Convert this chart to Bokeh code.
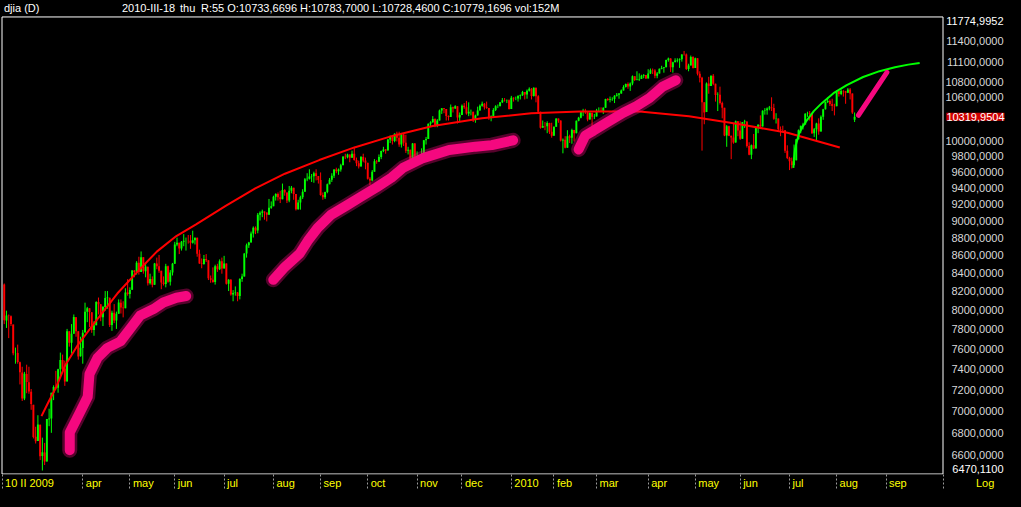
import math
import pandas as pd
from bokeh.plotting import figure
from bokeh.models import Range1d, FixedTicker, Label, ColumnDataSource, CustomJSTickFormatter
from bokeh.core.properties import value
from bokeh.embed import file_html
from bokeh.resources import INLINE

# ---------------- header texts ----------------
symbol = "djia (D)"
cursor_date = "2010-III-18"
cursor_day = "thu"
cursor_values = "R:55 O:10733,6696 H:10783,7000 L:10728,4600 C:10779,1696 vol:152M"
first_label = "10 II 2009"
scale_label = "Log"
last_close = 10319.9504

# ---------------- trading calendar ----------------
first_day = "2009-02-10"
calendar_end = "2010-09-30"
holidays = ["2009-02-16", "2009-04-10", "2009-05-25", "2009-07-03", "2009-09-07",
            "2009-11-26", "2009-12-25", "2010-01-01", "2010-01-18", "2010-02-15",
            "2010-04-02", "2010-05-31", "2010-07-05", "2010-09-06"]
tick_months = ["2009-04", "2009-05", "2009-06", "2009-07", "2009-08", "2009-09", "2009-10",
               "2009-11", "2009-12", "2010-01", "2010-02", "2010-03", "2010-04", "2010-05",
               "2010-06", "2010-07", "2010-08", "2010-09"]
month_names = ["jan", "feb", "mar", "apr", "may", "jun", "jul", "aug", "sep", "oct", "nov", "dec"]

# ---------------- daily OHLC ----------------
opens = [
    # 2009 feb
    8270, 7888, 7937, 7932, 7845, 7555, 7555, 7465, 7365, 7115, 7350, 7270, 7180,
    # mar
    7056, 6764, 6727, 6874, 6595, 6625, 6547, 6923, 6931, 7170, 7223, 7217, 7395, 7486, 7402, 7278, 7775, 7660, 7750, 7922, 7775, 7523,
    # apr
    7606, 7763, 7978, 8016, 7973, 7789, 7838, 8083, 8057, 7920, 8029, 8125, 8128, 7840, 7969, 7886, 7957, 8075, 8025, 8016, 8185,
    # may
    8168, 8213, 8426, 8411, 8512, 8410, 8574, 8418, 8468, 8284, 8331, 8268, 8504, 8474, 8422, 8292, 8277, 8473, 8300, 8403,
    # jun
    8500, 8721, 8740, 8675, 8750, 8763, 8764, 8763, 8739, 8770, 8799, 8613, 8504, 8497, 8555, 8539, 8339, 8323, 8299, 8472, 8438, 8529,
    # jul
    8447, 8504, 8280, 8324, 8163, 8178, 8183, 8146, 8332, 8359, 8616, 8711, 8743, 8848, 8916, 8882, 9069, 9093, 9108, 9096, 9070, 9154,
    # aug
    9172, 9286, 9320, 9280, 9256, 9370, 9338, 9242, 9362, 9398, 9321, 9136, 9218, 9280, 9350, 9505, 9510, 9540, 9543, 9581, 9545,
    # sep
    9496, 9310, 9281, 9345, 9441, 9497, 9548, 9627, 9605, 9626, 9683, 9791, 9784, 9820, 9779, 9830, 9749, 9707, 9666, 9789, 9742,
    # oct
    9712, 9510, 9488, 9600, 9732, 9726, 9787, 9865, 9886, 9872, 10016, 10063, 9996, 10093, 10041, 9950, 10082, 9973, 9868, 9882, 9763, 9963,
    # nov
    9713, 9790, 9772, 9802, 10005, 10024, 10227, 10247, 10292, 10197, 10271, 10407, 10438, 10427, 10333, 10318, 10451, 10434, 10465, 10310,
    # dec
    10345, 10472, 10453, 10367, 10389, 10390, 10286, 10338, 10406, 10472, 10502, 10452, 10442, 10309, 10329, 10414, 10464, 10467, 10520, 10548, 10545, 10548,
    # 2010 jan
    10428, 10584, 10573, 10574, 10607, 10619, 10663, 10628, 10681, 10711, 10610, 10726, 10604, 10389, 10173, 10196, 10194, 10236, 10120,
    # feb
    10067, 10185, 10297, 10271, 10002, 10013, 9908, 10058, 10038, 10144, 10099, 10268, 10309, 10392, 10403, 10384, 10283, 10375, 10321,
    # mar
    10325, 10404, 10405, 10397, 10445, 10567, 10553, 10564, 10567, 10612, 10625, 10643, 10686, 10734, 10779, 10742, 10786, 10888, 10836, 10841, 10850, 10895, 10907,
    # apr
    10857, 10927, 10974, 10970, 10897, 10928, 10998, 11006, 11019, 11124, 11145, 11019, 11093, 11117, 11125, 11134, 11206, 11205, 10992, 11045, 11167,
    # may
    11009, 11152, 10926, 10868, 10520, 10386, 10785, 10749, 10897, 10782, 10621, 10625, 10511, 10444, 10068, 10193, 10067, 10043, 9975, 10259,
    # jun
    10137, 10025, 10250, 10256, 9931, 9816, 9940, 9899, 10173, 10212, 10191, 10405, 10410, 10434, 10450, 10442, 10294, 10298, 10152, 10144, 10138, 9870,
    # jul
    9774, 9732, 9686, 9744, 10018, 10139, 10198, 10216, 10364, 10367, 10360, 10098, 10154, 10230, 10121, 10322, 10425, 10525, 10538, 10498, 10468,
    # aug
    10466, 10674, 10636, 10680, 10675, 10654, 10698, 10644, 10280,
]
highs = [
    8282, 7990, 7950, 7940, 7845, 7610, 7640, 7470, 7420, 7370, 7440, 7420, 7205,
    7056, 6855, 6960, 6874, 6757, 6710, 6926, 7020, 7170, 7240, 7380, 7400, 7560, 7540, 7480, 7800, 7775, 7850, 7950, 7922, 7775, 7720,
    7790, 8075, 8030, 8016, 7973, 7880, 8090, 8130, 8057, 8040, 8200, 8200, 8128, 7990, 8060, 7980, 8110, 8110, 8090, 8230, 8330,
    8240, 8430, 8430, 8530, 8580, 8640, 8574, 8510, 8468, 8390, 8360, 8510, 8570, 8600, 8422, 8360, 8500, 8480, 8430, 8510,
    8750, 8800, 8740, 8760, 8840, 8800, 8830, 8830, 8880, 8800, 8799, 8660, 8560, 8600, 8610, 8539, 8370, 8460, 8490, 8500, 8550, 8570,
    8590, 8504, 8330, 8330, 8210, 8250, 8190, 8340, 8390, 8620, 8730, 8750, 8870, 8930, 8930, 9090, 9110, 9130, 9108, 9096, 9260, 9230,
    9300, 9330, 9340, 9360, 9450, 9380, 9338, 9420, 9420, 9398, 9321, 9250, 9300, 9380, 9520, 9580, 9630, 9570, 9600, 9630, 9545,
    9590, 9340, 9350, 9450, 9520, 9580, 9630, 9650, 9640, 9700, 9800, 9830, 9830, 9820, 9870, 9920, 9780, 9740, 9800, 9830, 9780,
    9712, 9530, 9620, 9760, 9750, 9820, 9870, 9920, 9890, 10020, 10070, 10063, 10100, 10120, 10120, 10090, 10090, 10080, 9920, 9882, 9970, 9970,
    9860, 9800, 9900, 10010, 10050, 10230, 10260, 10330, 10300, 10290, 10420, 10440, 10440, 10427, 10340, 10490, 10460, 10480, 10465, 10380,
    10490, 10510, 10540, 10520, 10420, 10390, 10350, 10460, 10490, 10530, 10510, 10530, 10442, 10340, 10440, 10480, 10490, 10520, 10580, 10580, 10560, 10560,
    10610, 10590, 10600, 10620, 10630, 10680, 10663, 10700, 10730, 10720, 10730, 10726, 10620, 10390, 10270, 10250, 10260, 10240, 10240,
    10190, 10300, 10297, 10271, 10030, 10060, 10140, 10080, 10160, 10144, 10270, 10320, 10400, 10430, 10430, 10390, 10380, 10375, 10360,
    10430, 10450, 10450, 10450, 10570, 10580, 10600, 10590, 10620, 10650, 10650, 10700, 10760, 10784, 10800, 10800, 10900, 10890, 10960, 10930, 10910, 10920, 10907,
    10990, 11000, 11000, 10990, 10950, 11000, 11040, 11020, 11130, 11160, 11150, 11100, 11150, 11150, 11150, 11210, 11258, 11220, 11070, 11190, 11180,
    11160, 11152, 10960, 10880, 10520, 10800, 10880, 10900, 10920, 10782, 10660, 10740, 10530, 10444, 10210, 10200, 10067, 10230, 10270, 10259,
    10260, 10250, 10280, 10256, 9980, 9950, 10090, 10180, 10220, 10340, 10410, 10440, 10450, 10470, 10590, 10500, 10370, 10298, 10190, 10200, 10138, 9940,
    9790, 9780, 9950, 10020, 10150, 10200, 10240, 10370, 10390, 10400, 10360, 10170, 10240, 10300, 10340, 10430, 10530, 10590, 10560, 10570, 10500,
    10690, 10680, 10700, 10690, 10680, 10720, 10720, 10644, 10380,
]
lows = [
    7850, 7810, 7706, 7830, 7533, 7450, 7450, 7249, 7092, 7100, 7165, 7160, 7010,
    6750, 6705, 6727, 6560, 6470, 6517, 6547, 6860, 6800, 7100, 7200, 7170, 7310, 7370, 7235, 7278, 7620, 7550, 7750, 7720, 7490, 7520,
    7450, 7763, 7870, 7820, 7760, 7730, 7838, 7950, 7880, 7830, 7990, 8010, 7820, 7780, 7860, 7800, 7957, 7960, 7920, 8016, 8150,
    8120, 8213, 8350, 8380, 8380, 8410, 8390, 8350, 8260, 8270, 8240, 8268, 8440, 8400, 8220, 8260, 8240, 8290, 8260, 8370,
    8500, 8700, 8610, 8650, 8700, 8650, 8730, 8670, 8730, 8720, 8580, 8500, 8450, 8490, 8520, 8320, 8290, 8290, 8270, 8410, 8430, 8390,
    8447, 8270, 8200, 8150, 8090, 8150, 8090, 8110, 8300, 8359, 8570, 8680, 8743, 8800, 8840, 8850, 9000, 9040, 9010, 8990, 9070, 9140,
    9172, 9240, 9240, 9210, 9256, 9300, 9210, 9220, 9330, 9250, 9120, 9130, 9130, 9260, 9350, 9480, 9500, 9470, 9460, 9490, 9450,
    9300, 9250, 9260, 9330, 9441, 9470, 9520, 9580, 9560, 9600, 9683, 9760, 9770, 9720, 9779, 9740, 9670, 9640, 9666, 9720, 9630,
    9500, 9430, 9480, 9600, 9700, 9726, 9760, 9850, 9830, 9872, 9970, 9950, 9980, 9990, 9920, 9910, 9930, 9840, 9820, 9750, 9763, 9690,
    9680, 9700, 9772, 9802, 9950, 10024, 10190, 10240, 10180, 10180, 10271, 10360, 10370, 10270, 10270, 10318, 10380, 10430, 10230, 10260,
    10345, 10430, 10350, 10330, 10340, 10250, 10240, 10338, 10406, 10460, 10420, 10430, 10280, 10260, 10329, 10400, 10440, 10467, 10510, 10530, 10510, 10420,
    10428, 10530, 10550, 10530, 10560, 10610, 10560, 10570, 10670, 10560, 10600, 10520, 10370, 10160, 10173, 10140, 10100, 10090, 10040,
    10067, 10185, 10240, 9990, 9835, 9900, 9908, 9970, 9960, 9990, 10099, 10260, 10300, 10330, 10360, 10260, 10283, 10180, 10290,
    10325, 10400, 10390, 10360, 10445, 10540, 10520, 10540, 10510, 10600, 10570, 10640, 10686, 10728, 10710, 10680, 10760, 10820, 10830, 10820, 10850, 10860, 10850,
    10857, 10920, 10920, 10860, 10860, 10928, 10990, 10940, 11019, 11100, 10950, 10940, 11093, 11090, 11010, 11100, 11190, 10980, 10960, 11045, 11000,
    11009, 10900, 10800, 9870, 10220, 10386, 10640, 10749, 10760, 10530, 10400, 10490, 10300, 10060, 9920, 10060, 9760, 9960, 9975, 10060,
    10010, 10025, 10170, 9910, 9810, 9760, 9890, 9899, 10100, 10180, 10191, 10350, 10350, 10410, 10400, 10280, 10230, 10130, 10060, 10110, 9840, 9760,
    9620, 9640, 9680, 9744, 10018, 10100, 10150, 10216, 10320, 10270, 10090, 10050, 10000, 10080, 10121, 10280, 10420, 10510, 10470, 10400, 10340,
    10466, 10600, 10620, 10600, 10500, 10650, 10560, 10360, 10250,
]
closes = [
    7889, 7940, 7933, 7850, 7553, 7556, 7466, 7366, 7115, 7351, 7271, 7182, 7063,
    6763, 6726, 6876, 6594, 6627, 6547, 6926, 6930, 7170, 7224, 7217, 7395, 7487, 7400, 7278, 7776, 7660, 7750, 7924, 7776, 7522, 7609,
    7761, 7978, 8017, 7975, 7789, 7837, 8083, 8058, 7920, 8029, 8125, 8131, 7841, 7969, 7887, 7957, 8076, 8025, 8016, 8185, 8168,
    8212, 8426, 8410, 8512, 8409, 8575, 8418, 8469, 8284, 8331, 8268, 8504, 8474, 8422, 8292, 8277, 8473, 8300, 8403, 8500,
    8721, 8740, 8675, 8750, 8764, 8764, 8763, 8739, 8770, 8799, 8613, 8504, 8497, 8555, 8539, 8339, 8323, 8299, 8472, 8438, 8529, 8447,
    8504, 8280, 8324, 8163, 8178, 8183, 8146, 8332, 8359, 8616, 8711, 8743, 8848, 8916, 8882, 9069, 9093, 9108, 9096, 9070, 9154, 9172,
    9286, 9320, 9280, 9256, 9370, 9338, 9242, 9362, 9398, 9321, 9136, 9218, 9280, 9350, 9505, 9510, 9540, 9543, 9581, 9545, 9496,
    9310, 9281, 9345, 9441, 9497, 9548, 9627, 9605, 9626, 9683, 9791, 9784, 9820, 9779, 9830, 9749, 9707, 9666, 9789, 9742, 9712,
    9510, 9488, 9600, 9732, 9726, 9787, 9865, 9886, 9872, 10016, 10063, 9996, 10093, 10041, 9950, 10082, 9973, 9868, 9882, 9763, 9963, 9713,
    9790, 9772, 9802, 10005, 10024, 10227, 10247, 10292, 10197, 10271, 10407, 10438, 10427, 10333, 10318, 10451, 10434, 10465, 10310, 10345,
    10472, 10453, 10367, 10389, 10390, 10286, 10338, 10406, 10472, 10502, 10452, 10442, 10309, 10329, 10414, 10464, 10467, 10520, 10548, 10545, 10548, 10428,
    10584, 10573, 10574, 10607, 10619, 10663, 10628, 10681, 10711, 10610, 10726, 10604, 10389, 10173, 10196, 10194, 10236, 10120, 10067,
    10185, 10297, 10271, 10002, 10013, 9908, 10058, 10038, 10144, 10099, 10268, 10309, 10392, 10403, 10384, 10283, 10375, 10321, 10325,
    10404, 10405, 10397, 10445, 10567, 10553, 10564, 10567, 10612, 10625, 10643, 10686, 10734, 10779, 10742, 10786, 10888, 10836, 10841, 10850, 10895, 10907, 10857,
    10927, 10974, 10970, 10897, 10928, 10998, 11006, 11019, 11124, 11145, 11019, 11093, 11117, 11125, 11134, 11205, 11205, 10992, 11045, 11167, 11009,
    11152, 10926, 10868, 10520, 10380, 10785, 10749, 10897, 10782, 10621, 10625, 10511, 10444, 10068, 10193, 10067, 10043, 9975, 10259, 10137,
    10025, 10250, 10256, 9931, 9816, 9940, 9899, 10173, 10212, 10191, 10405, 10410, 10434, 10450, 10442, 10294, 10298, 10152, 10144, 10138, 9870, 9774,
    9732, 9686, 9744, 10018, 10139, 10198, 10216, 10364, 10367, 10360, 10098, 10154, 10230, 10121, 10322, 10425, 10525, 10538, 10498, 10468, 10466,
    10674, 10636, 10680, 10675, 10654, 10698, 10644, 10378, 10320,
]

# ---------------- hand-drawn trend lines (bar index, price) ----------------
red_arc_x = [16.6, 19.6, 23.2, 27.1, 32.8, 40.3, 50.4, 59.2, 68.0, 76.7, 85.5, 98.7, 111.9, 125.1,
             140.4, 156.1, 173.4, 191.0, 212.9, 234.9, 256.8, 283.2, 305.2, 327.1, 349.1, 372.4]
red_arc_y = [6952, 7078, 7225, 7432, 7636, 7865, 8173, 8408, 8638, 8817, 8955, 9176, 9391, 9574,
             9748, 9912, 10067, 10196, 10302, 10368, 10395, 10395, 10328, 10223, 10105, 9912]
green_arc_x = [351.7, 352.0, 352.5, 353.2, 354.2, 355.7, 357.9, 360.8, 364.5, 369.6, 375.5, 382.8,
               390.1, 397.0, 402.9, 408.0]
green_arc_y = [9648, 9773, 9899, 9985, 10092, 10179, 10280, 10399, 10512, 10648, 10763, 10878,
               10962, 11018, 11057, 11080]
stroke1_x = [29.2, 29.2, 33.6, 37.2, 38.0, 41.6, 46.0, 51.8, 56.2, 60.6, 66.5, 70.9, 76.7, 81.1]
stroke1_y = [6646, 6804, 6981, 7132, 7350, 7509, 7607, 7673, 7805, 7939, 8007, 8077, 8128, 8146]
stroke2_x = [119.9, 125.1, 131.6, 135.3, 139.7, 145.6, 152.9, 158.8, 166.0, 172.6, 177.8, 186.6,
             198.3, 210.0, 217.3, 226.8]
stroke2_y = [8323, 8465, 8613, 8762, 8913, 9067, 9185, 9283, 9404, 9525, 9649, 9773,
             9878, 9922, 9942, 10005]
stroke3_x = [256.0, 259.0, 262.7, 268.6, 275.9, 281.7, 287.6, 293.4, 299.3]
stroke3_y = [9886, 10070, 10135, 10245, 10377, 10466, 10579, 10738, 10832]
stroke4_x = [380.7, 393.4]
stroke4_y = [10342, 10944]

price_ticks = [6600, 6800, 7000, 7200, 7400, 7600, 7800, 8000, 8200, 8400, 8600, 8800,
               9000, 9200, 9400, 9600, 9800, 10000, 10600, 10800, 11100, 11400]
price_top = 11774.9952
price_low = 6470.11

# ---------------- layout (canvas pixels) ----------------
W, H = 1005, 491
MB = 16                       # bottom strip for the date axis
FRAME_H = H - MB              # frame covers the rest of the canvas
BOX_L, BOX_R, BOX_T, BOX_B = 1.5, 942.5, 16.5, 474.5   # white chart box
X0, X1 = -1.0, 418.4          # bar index at box left / right
LOW_PX = 471.0                # where the lowest price sits
TICK_LEN = 14
FONT = "Liberation Sans"

ppb = (BOX_R - BOX_L) / (X1 - X0)                          # pixels per bar
k = (LOW_PX - BOX_T) / math.log(price_top / price_low)     # pixels per ln(price)
x_start = X0 - BOX_L / ppb
x_end = X1 + (W - BOX_R) / ppb
y_end = math.exp(math.log(price_top) + BOX_T / k)
y_start = math.exp(math.log(price_top) - (FRAME_H - BOX_T) / k)
y_box_bottom = math.exp(math.log(price_top) - (BOX_B - BOX_T) / k)
y_header = math.exp(math.log(price_top) + 3.0 / k)

# ---------------- derived ----------------
n = min(len(opens), len(highs), len(lows), len(closes))
cal = pd.bdate_range(first_day, calendar_end, freq="C", holidays=holidays)
xs = list(range(n))
colors = ["#00ff00" if c >= o else "#ff0000" for o, c in zip(opens[:n], closes[:n])]
src = ColumnDataSource(dict(
    x=xs, h=highs[:n], l=lows[:n],
    top=[max(o, c) for o, c in zip(opens[:n], closes[:n])],
    bottom=[min(o, c) for o, c in zip(opens[:n], closes[:n])],
    color=colors))

char_w = {"a": 6.1, "p": 6.1, "r": 3.7, "m": 9.2, "y": 5.5, "j": 2.4, "u": 6.1, "n": 6.1, "l": 2.4,
          "g": 6.1, "s": 5.5, "e": 6.1, "o": 6.1, "c": 5.5, "t": 3.1, "v": 5.5, "d": 6.1, "b": 6.1,
          "f": 3.1, "I": 3.1, " ": 3.1, "L": 6.1}


def text_w(s):
    return sum(char_w.get(ch, 6.1) for ch in s)


def fmt(v):
    return f"{v:.4f}".replace(".", ",")


tick_pos = [X0]
tick_txt = [first_label]
for m in tick_months:
    per = pd.Period(m, "M")
    pos = [i for i, d in enumerate(cal) if d.year == per.year and d.month == per.month][0]
    tick_pos.append(pos)
    tick_txt.append(str(per.year) if per.month == 1 else month_names[per.month - 1])
label_pos = [t + (3 + text_w(s) / 2) / ppb for t, s in zip(tick_pos, tick_txt)]
tick_txt.append(scale_label)
label_pos.append(X1 + (33 + text_w(scale_label) / 2) / ppb)

p = figure(width=W, height=H, x_range=Range1d(x_start, x_end), y_range=Range1d(y_start, y_end),
           y_axis_type="log", y_axis_location=None,
           output_backend="svg", toolbar_location=None,
           background_fill_color="black", border_fill_color="black",
           min_border_left=0, min_border_right=0, min_border_top=0, min_border_bottom=MB)
p.title = None
p.grid.visible = False
p.outline_line_color = None

# white chart box
p.segment(x0=[X0, X1, X0, X0], y0=[y_box_bottom, y_box_bottom, price_top, y_box_bottom],
          x1=[X0, X1, X1, X1], y1=[price_top, price_top, price_top, y_box_bottom],
          line_color="white", line_width=1)

# candles
p.segment(x0="x", y0="l", x1="x", y1="h", line_color="color", line_width=1, source=src)
p.vbar(x="x", top="top", bottom="bottom", width=0.85, fill_color="color", line_color=None, source=src)

# trend arcs
p.line(red_arc_x, red_arc_y, line_color="#ff0000", line_width=2)
p.line(green_arc_x, green_arc_y, line_color="#00ff00", line_width=2)

# hand strokes
PINK = "#f5087f"
for sx, sy in [(stroke1_x, stroke1_y), (stroke2_x, stroke2_y), (stroke3_x, stroke3_y)]:
    p.line(sx, sy, line_color=PINK, line_width=15, line_alpha=0.35, line_cap="round", line_join="round")
    p.line(sx, sy, line_color=PINK, line_width=10, line_cap="round", line_join="round")
p.line(stroke4_x, stroke4_y, line_color=PINK, line_width=5, line_cap="round")

# price scale at the right of the chart box
price_style = dict(x_offset=-2, text_align="right", text_baseline="middle",
                   text_font=value(FONT), text_font_size="11px")
p.text(x=[x_end] * len(price_ticks), y=price_ticks, text=[fmt(t) for t in price_ticks],
       text_color="#d8d8d8", **price_style)
p.text(x=[x_end], y=[price_top], text=[fmt(price_top)], y_offset=4, text_color="white", **price_style)
p.text(x=[x_end], y=[price_low], text=[fmt(price_low)], y_offset=-2, text_color="white", **price_style)

# last close marker
p.add_layout(Label(x=x_end, y=last_close, x_offset=-1, text=fmt(last_close),
                   text_align="right", text_baseline="middle", text_color="white",
                   background_fill_color="#d00000",
                   text_font=FONT, text_font_size="11px"))

# header line
for off, txt in [(2, symbol), (120, cursor_date), (178, cursor_day), (199, cursor_values)]:
    p.add_layout(Label(x=X0, y=y_header, x_offset=off, text=txt, text_color="white",
                       text_font=FONT, text_font_size="11px", text_baseline="bottom"))

# bottom date axis (dotted separators are minor ticks, labels sit just right of them)
xa = p.xaxis[0]
xa.ticker = FixedTicker(ticks=label_pos, minor_ticks=tick_pos + [X1])
xa.formatter = CustomJSTickFormatter(args=dict(labels=tick_txt), code="return labels[index];")
xa.axis_label = None
xa.axis_label_standoff = 0
xa.major_label_text_color = "#ffff00"
xa.major_label_text_font = FONT
xa.major_label_text_font_size = "11px"
xa.major_label_text_line_height = 0.8
xa.major_label_standoff = 2
xa.major_tick_out = 0
xa.major_tick_in = 0
xa.major_tick_line_color = None
xa.minor_tick_out = 0
xa.minor_tick_in = -TICK_LEN
xa.minor_tick_line_color = "#9a9a9a"
xa.minor_tick_line_dash = "2 2"
xa.axis_line_color = None

html = file_html(p, INLINE, title="djia (D)")
html = html.replace("<head>", "<head>\n<style>html, body { background: #000000; }</style>", 1)
with open("out.html", "w") as f:
    f.write(html)
print(n, len(opens), len(highs), len(lows), len(closes))
